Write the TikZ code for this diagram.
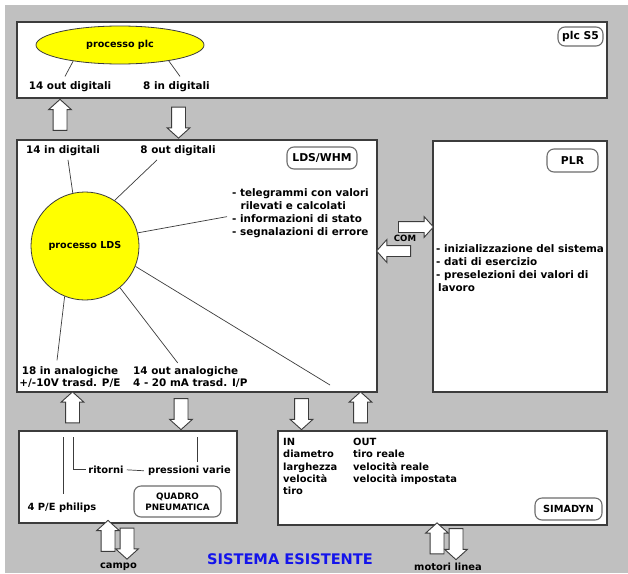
\documentclass[tikz,border=0pt]{standalone}
\usepackage{fontspec}
\setmainfont{DejaVu Sans}
\usetikzlibrary{shapes.geometric,shapes.arrows}
\definecolor{sfondo}{RGB}{192,192,192}
\definecolor{bordo}{RGB}{60,60,60}
\definecolor{giallo}{RGB}{255,255,0}
\definecolor{blusys}{RGB}{20,20,235}
\begin{document}
\begin{tikzpicture}[x=1pt,y=-1pt]
	\tikzstyle{blocco}=[draw=bordo,fill=white,line width=1.3pt]
	\tikzstyle{etichetta}=[draw=bordo!75,fill=white,line width=1.1pt,rounded corners=7pt,inner sep=0pt,font=\bfseries\fontsize{10.8}{12}\selectfont]
	\tikzstyle{testo}=[inner sep=0pt,font=\bfseries\fontsize{10.4}{12.8}\selectfont]
	\tikzstyle{piccolo}=[inner sep=0pt,font=\bfseries\fontsize{9.9}{12}\selectfont]
	\tikzstyle{processo}=[draw=bordo,fill=giallo,line width=0.8pt,inner sep=0pt,font=\bfseries\fontsize{9.6}{11}\selectfont]
	\tikzstyle{freccia}=[single arrow,draw=bordo,fill=white,line width=0.9pt,inner xsep=0pt,inner ysep=6.5pt,minimum height=31pt,minimum width=0pt,single arrow head extend=4.5pt,single arrow tip angle=96]
	\tikzstyle{su}=[freccia,rotate=90]
	\tikzstyle{giu}=[freccia,rotate=-90]
	\tikzstyle{filo}=[bordo,line width=0.7pt]

	\useasboundingbox (0,0) rectangle (628,573);
	\fill[sfondo] (5,5) rectangle (628,573);

	% blocchi
	\draw[blocco] (17,22) rectangle (607,98);
	\draw[blocco] (17,140) rectangle (377,392);
	\draw[blocco] (433,141) rectangle (607,392);
	\draw[blocco] (19,431) rectangle (237,523);
	\draw[blocco] (278,431) rectangle (607,525);

	% plc S5
	\node[processo,ellipse,minimum width=168pt,minimum height=38pt] (plc) at (120,45) {processo plc};
	\node[testo,anchor=base] (out14) at (70,89.5) {14 out digitali};
	\node[testo,anchor=base] (in8) at (176.5,89.5) {8 in digitali};
	\draw[filo] (plc.199) -- ([xshift=-5pt,yshift=5pt]out14.north);
	\draw[filo] (plc.342) -- ([xshift=3.5pt,yshift=5pt]in8.north);
	\node[etichetta,minimum width=45pt,minimum height=19pt] (tplc) at (580.5,36.5) {plc S5};

	\node[su] (f1) at (60,118) {};
	\node[giu] (f2) at (178.5,119.5) {};

	% LDS/WHM
	\node[processo,circle,minimum size=108pt] (lds) at (85,246) {processo LDS};
	\node[testo,anchor=base] (in14) at (63,153.5) {14 in digitali};
	\node[testo,anchor=base] (out8) at (178,153.5) {8 out digitali};
	\node[etichetta,minimum width=70pt,minimum height=22pt] (tlds) at (322,158) {LDS/WHM};
	\foreach \riga [count=\i] in {- telegrammi con valori,\hspace*{8.5pt}rilevati e calcolati,- informazioni di stato,- segnalazioni di errore}
		{ \node[testo,anchor=base west] (tel\i) at (232,{183.5+13*\i}) {\riga}; }
	\node[testo,anchor=base] (an18) at (70,374.5) {18 in analogiche};
	\node[testo,anchor=base] (an18b) at (70,386.5) {+/-10V trasd. P/E};
	\node[testo,anchor=base west] (an14) at (133,374.5) {14 out analogiche};
	\node[testo,anchor=base west] (an14b) at (133,386.5) {4 - 20 mA trasd. I/P};
	\coordinate (versosim) at (330,385);

	\draw[filo] (lds.103) -- ([xshift=5pt,yshift=-4pt]in14.south);
	\draw[filo] (lds.57) -- ([xshift=-21pt,yshift=-4pt]out8.south);
	\draw[filo] (lds.14) -- ([xshift=-5pt,yshift=2pt]tel3.west);
	\draw[filo] (lds.-22) -- (versosim);
	\draw[filo] (lds.-50) -- ([xshift=-8pt,yshift=3.5pt]an14.north);
	\draw[filo] (lds.248) -- ([xshift=-13pt,yshift=6pt]an18.north);

	% PLR
	\node[etichetta,minimum width=51pt,minimum height=23pt] (tplr) at (572.5,160.5) {PLR};
	\foreach \riga [count=\i] in {- inizializzazione del sistema,- dati di esercizio,- preselezioni dei valori di,\hspace*{2pt}lavoro}
		{ \node[testo,anchor=base west] (plr\i) at (436,{239.5+13*\i}) {\riga}; }

	% COM
	\node[freccia,minimum height=35pt,inner ysep=5pt,single arrow head extend=5pt] (comdx) at (413.5,227) {};
	\node[freccia,rotate=180,minimum height=34pt,inner ysep=5pt,single arrow head extend=6pt] (comsx) at (396,251) {};
	\node[inner sep=0pt,font=\bfseries\fontsize{8.6}{10}\selectfont] (com) at (405,238.5) {COM};

	\node[su] (f3) at (72.5,410.5) {};
	\node[giu] (f4) at (181,411) {};
	\node[giu] (f5) at (301.5,411) {};
	\node[su] (f6) at (360.5,410.5) {};

	% quadro pneumatica
	\coordinate (q1) at (63,437);
	\coordinate (q2) at (73,437);
	\coordinate (q3) at (197,437);
	\node[piccolo,anchor=base] (pe) at (62,510.5) {4 P/E philips};
	\node[piccolo,anchor=base] (rit) at (106,473.5) {ritorni};
	\node[piccolo,anchor=base] (pv) at (189.5,473.5) {pressioni varie};
	\draw[filo] (q1) -- ([xshift=1pt,yshift=8.5pt]pe.north);
	\draw[filo] (q2) |- ([xshift=-2pt]rit.west);
	\draw[filo] ([xshift=3pt]rit.east) -- ([xshift=-4pt]pv.west);
	\draw[filo] (q3) -- ([xshift=7.5pt,yshift=3.5pt]pv.north);
	\node[etichetta,align=center,minimum width=87pt,minimum height=31pt,font=\bfseries\fontsize{8.8}{11}\selectfont] (tquadro) at (177.5,501.5) {QUADRO\\PNEUMATICA};

	\node[su] (c1) at (108,539) {};
	\node[giu] (c2) at (127,540.5) {};
	\node[piccolo,anchor=base] (campo) at (118.5,568.5) {campo};

	% simadyn
	\foreach \riga [count=\i] in {IN,diametro,larghezza,velocità,tiro}
		{ \node[piccolo,anchor=base west] (sin\i) at (283,{433.2+12.3*\i}) {\riga}; }
	\foreach \riga [count=\i] in {OUT,tiro reale,velocità reale,velocità impostata}
		{ \node[piccolo,anchor=base west] (sout\i) at (353,{433.2+12.3*\i}) {\riga}; }
	\node[etichetta,minimum width=67pt,minimum height=22pt,font=\bfseries\fontsize{9.8}{11}\selectfont] (tsim) at (568.5,509) {SIMADYN};

	\node[su] (m1) at (437,541.5) {};
	\node[giu] (m2) at (456,541) {};
	\node[piccolo,anchor=base] (motori) at (448,570.5) {motori linea};

	\node[inner sep=0pt,anchor=base,text=blusys,font=\bfseries\fontsize{14.6}{16}\selectfont] (titolo) at (290,564.3) {SISTEMA ESISTENTE};
\end{tikzpicture}
\end{document}
